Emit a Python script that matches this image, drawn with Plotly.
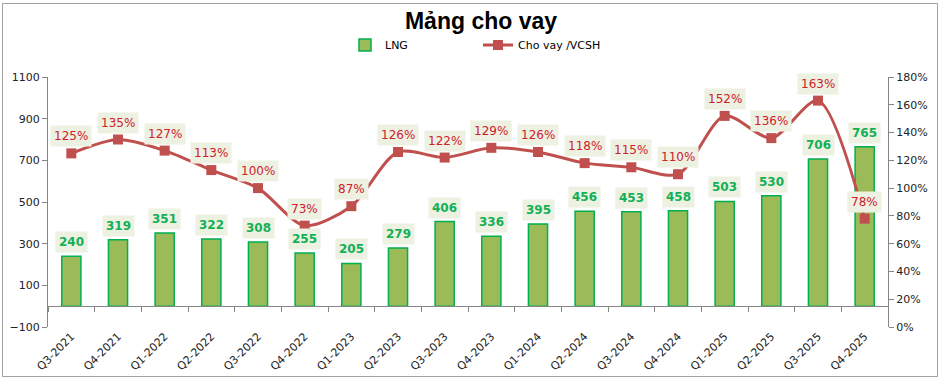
import numpy as np
import plotly.graph_objects as go

quarters = ["Q3-2021", "Q4-2021", "Q1-2022", "Q2-2022", "Q3-2022", "Q4-2022",
            "Q1-2023", "Q2-2023", "Q3-2023", "Q4-2023", "Q1-2024", "Q2-2024",
            "Q3-2024", "Q4-2024", "Q1-2025", "Q2-2025", "Q3-2025", "Q4-2025"]
lng = [240, 319, 351, 322, 308, 255, 205, 279, 406, 336, 395, 456, 453, 458, 503, 530, 706, 765]
ratio = [125, 135, 127, 113, 100, 73, 87, 126, 122, 129, 126, 118, 115, 110, 152, 136, 163, 78]

W, H = 943, 384
L, R, T, B = 48, 55, 77, 57
pw, ph = W - L - R, H - T - B

BAR = "#9BBB59"
BAR_EDGE = "#00B050"
LINE = "#C0504D"
AX = "#868686"
BOX = "#EDF1E2"
FONT = "DejaVu Sans"

fig = go.Figure()
fig.add_trace(go.Bar(x=quarters, y=lng, name="LNG", width=0.41,
                     marker=dict(color=BAR, line=dict(color=BAR_EDGE, width=1.5)),
                     xaxis="x", yaxis="y"))
fig.add_trace(go.Scatter(x=quarters, y=ratio, name="Cho vay /VCSH", xaxis="x2", yaxis="y2",
                         mode="lines+markers",
                         line=dict(color=LINE, width=3, shape="spline", smoothing=0.8),
                         marker=dict(symbol="square", size=10, color=LINE)))

ann = []
for q, v in zip(quarters, lng):
    ann.append(dict(x=q, y=v, xref="x", yref="y", text=f"<b>{v}</b>", showarrow=False,
                    yanchor="bottom", yshift=3, bgcolor=BOX, borderpad=3,
                    font=dict(family=FONT, size=12, color="#12B055")))
for q, r in zip(quarters, ratio):
    ann.append(dict(x=q, y=r, xref="x2", yref="y2", text=f"{r}%", showarrow=False,
                    yanchor="bottom", yshift=6, bgcolor=BOX, borderpad=3,
                    font=dict(family=FONT, size=12, color="#D0202A")))

n = len(quarters)

fig.update_layout(
    width=W, height=H,
    margin=dict(l=L, r=R, t=T, b=B, autoexpand=False),
    paper_bgcolor="white", plot_bgcolor="white",
    font=dict(family=FONT, size=11, color="#222222"),
    title=dict(text="<b>Mảng cho vay</b>", x=481 / W, xanchor="center",
               y=1 - 21 / H, yanchor="middle",
               font=dict(family="Liberation Sans", size=23, color="black")),
    showlegend=True,
    legend=dict(orientation="h", x=(345 - L) / pw, xanchor="left",
                y=(H - B - 45) / ph, yanchor="middle",
                entrywidth=88, entrywidthmode="pixels",
                font=dict(family=FONT, size=11, color="black"),
                bgcolor="rgba(0,0,0,0)"),
    xaxis=dict(type="category", categoryorder="array", categoryarray=quarters,
               range=[-0.5, n - 0.5], anchor="free", position=100 / 1200,
               showticklabels=False, tickson="boundaries", ticks="outside", ticklen=5,
               tickcolor=AX, showline=True, linecolor=AX, linewidth=1,
               showgrid=False, zeroline=False, automargin=False),
    xaxis2=dict(type="category", categoryorder="array", categoryarray=quarters,
                overlaying="x", anchor="y2", side="bottom",
                range=[-0.5, n - 0.5], tickangle=-45, showline=False, ticks="",
                showgrid=False, zeroline=False, automargin=False,
                tickfont=dict(family=FONT, size=11, color="#222222")),
    yaxis=dict(range=[-100, 1100], tick0=-100, dtick=200, showgrid=False,
               zeroline=False, showline=True, linecolor=AX, ticks="outside",
               ticklen=5, tickcolor=AX, automargin=False,
               tickfont=dict(family=FONT, size=11, color="#222222")),
    yaxis2=dict(range=[0, 180], tick0=0, dtick=20, ticksuffix="%", overlaying="y",
                side="right", showgrid=False, zeroline=False, showline=True,
                linecolor=AX, ticks="outside", ticklen=5, tickcolor=AX, automargin=False,
                tickfont=dict(family=FONT, size=11, color="#222222")),
    annotations=ann,
    shapes=[dict(type="rect", xref="paper", yref="paper",
                 x0=(2.5 - L) / pw, x1=(937.5 - L) / pw,
                 y0=(H - B - 376.5) / ph, y1=(H - B - 3.5) / ph,
                 line=dict(color="#A0A0A0", width=1), layer="below")],
)

fig.write_html("out.html", config={"displayModeBar": False},
               post_script="document.body.style.margin='0';document.body.style.overflow='hidden';")
